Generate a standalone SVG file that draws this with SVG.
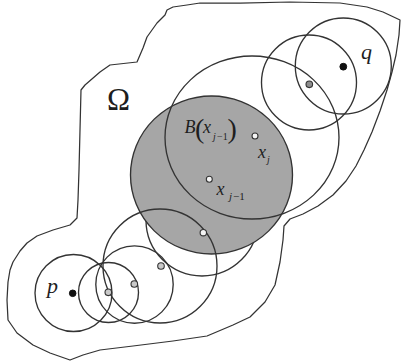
<svg xmlns="http://www.w3.org/2000/svg" width="402" height="363" viewBox="0 0 402 363">
<style>
.c{fill:none;stroke:#333;stroke-width:1.35}
.o{fill:none;stroke:#333;stroke-width:1.25;stroke-linejoin:round}
.lbl{font-family:"Liberation Serif",serif;fill:#1e1e1e}
.it{font-style:italic}
.dg{fill:#c9c9c9;stroke:#333;stroke-width:1.1}
.dw{fill:#f4f4f4;stroke:#333;stroke-width:1.1}
.db{fill:#111;stroke:#111;stroke-width:1}
</style>
<rect width="402" height="363" fill="#fff"/>
<g id="omega-region">
<path class="o" d="M200,3 L240,3 L290,2 L340,3 L367,7 L383,12 L400,20 L399,35 L396,55 L392,72 L387,90 L380,111 L372,132 L364,150 L356,166 L346,181 L333,195 L318,206 L303,214 L290,219 L284,226 L283,240 L280,262 L275,285 L265,302 L250,317 L233,325 L207,336 L173,341 L133,346 L100,350 L83,355 L70,360 L50,353 L33,345 L17,333 L8,320 L7,300 L8,282 L10,270 L13,262 L20,251 L27,243 L37,236 L53,230 L70,225 L77,218 L78,200 L79,170 L80,130 L81,90 L85,85 L100,72 L110,65 L137,62 L143,48 L147,37 L157,23 L165,15 L167,10 L173,7 L187,5 Z"/>
<text class="lbl" x="107" y="110" font-size="31">Ω</text>
</g>
<g id="ball-xj">
<circle class="c" cx="202" cy="220" r="56"/>
</g>
<g id="ball-shaded">
<ellipse cx="211.5" cy="175" rx="81" ry="79" fill="#a6a6a6" stroke="#333" stroke-width="1.35"/>
</g>
<g id="ball-large">
<ellipse class="c" cx="252" cy="137.5" rx="87" ry="81.5"/>
</g>
<g id="ball-p">
<circle class="c" cx="73.5" cy="293" r="38.5"/>
</g>
<g id="ball-2">
<circle class="c" cx="108.5" cy="292.5" r="30"/>
</g>
<g id="ball-3">
<circle class="c" cx="134.5" cy="284.5" r="38.7"/>
</g>
<g id="ball-4">
<circle class="c" cx="160" cy="266" r="57"/>
</g>
<g id="ball-q1">
<circle class="c" cx="309" cy="82.5" r="47.5"/>
</g>
<g id="ball-q2">
<circle class="c" cx="343.3" cy="66" r="48"/>
</g>
<g id="points">
<circle class="db" cx="72.7" cy="293.3" r="3.3"/>
<circle class="dg" cx="108.3" cy="292.3" r="3.3"/>
<circle class="dg" cx="134.3" cy="284" r="3.3"/>
<circle class="dg" cx="161" cy="266" r="3.3"/>
<circle class="dw" cx="203.3" cy="232.7" r="3.2"/>
<circle class="dw" cx="209.3" cy="179.3" r="3"/>
<circle class="dw" cx="255" cy="136" r="3"/>
<circle cx="309.3" cy="84.3" r="3.3" fill="#8c8c8c" stroke="#333" stroke-width="1.1"/>
<circle class="db" cx="343.3" cy="66.7" r="3.4"/>
</g>
<g id="labels">
<text class="lbl it" x="47" y="293" font-size="22">p</text>
<text class="lbl it" x="361" y="59" font-size="22">q</text>
<text class="lbl" y="133"><tspan class="it" x="184.5" font-size="18">B</tspan><tspan x="195" y="138" font-size="28">(</tspan><tspan class="it" x="203" y="133" font-size="18">x</tspan><tspan class="it" x="213" y="140" font-size="10">j</tspan><tspan x="217" y="140" font-size="10">−1</tspan><tspan x="227.5" y="138" font-size="28">)</tspan></text>
<text class="lbl" y="158"><tspan class="it" x="258" font-size="18">x</tspan><tspan class="it" x="267" y="163" font-size="10">j</tspan></text>
<text class="lbl" y="195"><tspan class="it" x="216.5" font-size="18">x</tspan><tspan class="it" x="229" y="200" font-size="11">j</tspan><tspan x="233" y="200" font-size="11">−1</tspan></text>
</g>
</svg>
